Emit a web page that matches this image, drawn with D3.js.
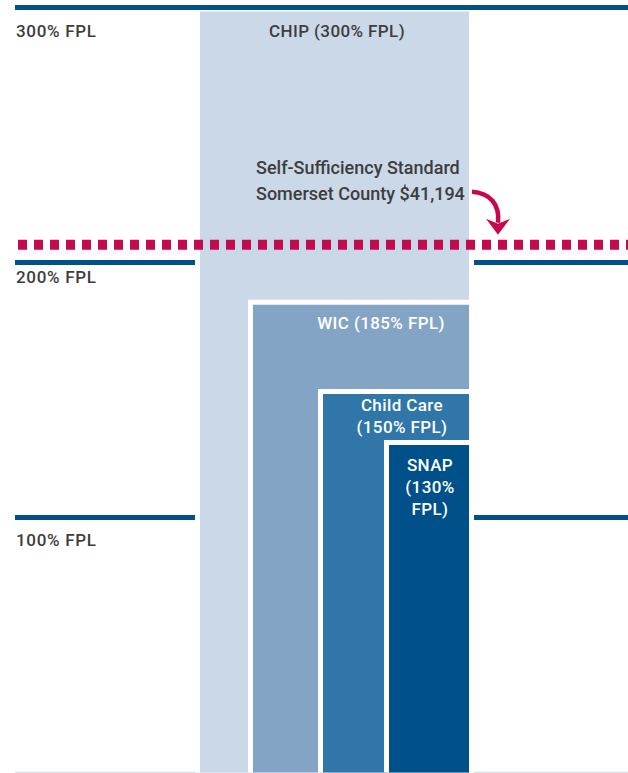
<!DOCTYPE html>
<html>
<head>
<meta charset="utf-8">
<script src="https://cdn.jsdelivr.net/npm/d3@7/dist/d3.min.js"></script>
<style>
  body { margin: 0; background: #fff; }
  text { font-family: Roboto, "Liberation Sans", Arial, sans-serif; font-weight: 500; }
</style>
</head>
<body>
<div class="chart"></div>
<script>
// data
var programs = ["CHIP", "WIC", "Child Care", "SNAP"];
var eligibility = [300, 185, 150, 130];
var programLabels = [["CHIP (300% FPL)"], ["WIC (185% FPL)"], ["Child Care", "(150% FPL)"], ["SNAP", "(130%", "FPL)"]];
var fplLevels = [300, 200, 100];
var fplLabels = ["300% FPL", "200% FPL", "100% FPL"];
var standardPct = 207;
var standardLabel = ["Self-Sufficiency Standard", "Somerset County $41,194"];

var width = 628;
var height = 773;

var colors = d3.scaleOrdinal().domain(programs).range(["#cad8e8", "#84a4c6", "#3076a8", "#00518a"]);
var labelColors = d3.scaleOrdinal().domain(programs).range(["#3d3d3d", "#fff", "#fff", "#fff"]);
var barLeft = d3.scaleOrdinal().domain(programs).range([200, 253, 323, 389]);
var labelX = d3.scaleOrdinal().domain(programs).range([337, 381, 402, 430]);
var labelDy = d3.scaleOrdinal().domain(programs).range([29, 28, 21, 30]);
var barRight = 469;
var halo = 5;

var y = d3.scaleLinear().domain([0, 300]).range([772.5, 7.5]);
var maxProgram = d3.max(eligibility);

var svg = d3.select(".chart")
    .append("svg")
    .attr("width", width)
    .attr("height", height);

var bars = programs.map(function(p, i) {
    return { name: p, value: eligibility[i], label: programLabels[i] };
});

function fplLine(sel) {
    sel.attr("class", "fplLine")
        .attr("x1", 15)
        .attr("x2", width)
        .attr("y1", function(d) { return y(d); })
        .attr("y2", function(d) { return y(d); })
        .attr("stroke", "#00518a")
        .attr("stroke-width", 5);
}

// FPL lines that the bars cut through (behind bars)
svg.selectAll(".fplLineBack")
    .data(fplLevels.filter(function(d) { return d < maxProgram; }))
    .enter().append("line")
    .call(fplLine);

// baseline
svg.append("line")
    .attr("x1", 15)
    .attr("x2", width)
    .attr("y1", y(0))
    .attr("y2", y(0))
    .attr("stroke", "#d5e0ec")
    .attr("stroke-width", 1.5);

var barG = svg.selectAll(".bar")
    .data(bars)
    .enter().append("g")
    .attr("class", "bar");

// white halo round each bar
barG.append("rect")
    .attr("x", function(d) { return barLeft(d.name) - halo; })
    .attr("y", function(d) { return y(d.value) - 1; })
    .attr("width", function(d) { return barRight - barLeft(d.name) + 2 * halo; })
    .attr("height", function(d) { return y(0) - y(d.value) + 1; })
    .attr("fill", "#fff");

barG.append("rect")
    .attr("x", function(d) { return barLeft(d.name); })
    .attr("y", function(d) { return y(d.value) - 1 + halo; })
    .attr("width", function(d) { return barRight - barLeft(d.name); })
    .attr("height", function(d) { return y(0) - y(d.value) + 1 - halo; })
    .attr("fill", function(d) { return colors(d.name); });

barG.each(function(d) {
    var t = d3.select(this).append("text")
        .attr("text-anchor", "middle")
        .attr("font-size", "17px")
        .attr("letter-spacing", "0.4px")
        .attr("fill", labelColors(d.name));
    d.label.forEach(function(line, j) {
        t.append("tspan")
            .attr("x", labelX(d.name))
            .attr("y", y(d.value) + labelDy(d.name) + j * 22)
            .text(line);
    });
});

// top FPL line sits over the bars
svg.selectAll(".fplLineFront")
    .data(fplLevels.filter(function(d) { return d >= maxProgram; }))
    .enter().append("line")
    .call(fplLine);

// FPL labels
var fplDy = { 300: 29, 200: 20, 100: 28 };
svg.selectAll(".fplLabel")
    .data(fplLevels)
    .enter().append("text")
    .attr("class", "fplLabel")
    .attr("x", 16)
    .attr("y", function(d) { return y(d) + fplDy[d]; })
    .attr("font-size", "17px")
    .attr("letter-spacing", "0.7px")
    .attr("fill", "#3d3d3d")
    .text(function(d, i) { return fplLabels[i]; });

// self-sufficiency standard
svg.append("line")
    .attr("x1", 18)
    .attr("x2", width)
    .attr("y1", y(standardPct))
    .attr("y2", y(standardPct))
    .attr("stroke", "#c8084e")
    .attr("stroke-width", 10)
    .attr("stroke-dasharray", "9,7");

svg.append("text")
    .attr("font-size", "18px")
    .attr("fill", "#3d3d3d")
    .selectAll("tspan")
    .data(standardLabel)
    .enter().append("tspan")
    .attr("x", 256)
    .attr("y", function(d, i) { return y(standardPct) - 71 + i * 26; })
    .text(function(d) { return d; });

// curved arrow
var sy = y(standardPct);
svg.append("path")
    .attr("d", "M472," + (sy - 53) + " C490," + (sy - 52) + " 500," + (sy - 40) + " 498," + (sy - 22))
    .attr("fill", "none")
    .attr("stroke", "#c8084e")
    .attr("stroke-width", 4.5);

svg.append("path")
    .attr("d", "M486," + (sy - 26) + " L498," + (sy - 10) + " L510," + (sy - 26) + " L498," + (sy - 21) + " Z")
    .attr("fill", "#c8084e");
</script>
</body>
</html>
